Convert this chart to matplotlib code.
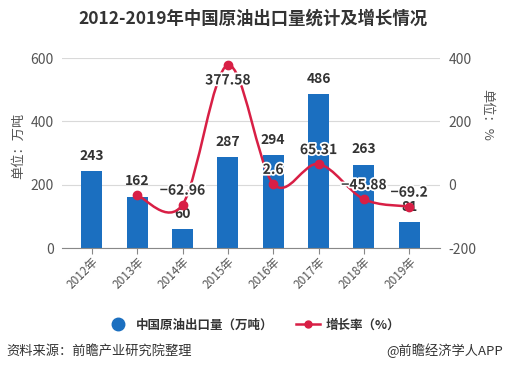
import numpy as np
import matplotlib.pyplot as plt
from matplotlib.path import Path
from matplotlib.patches import PathPatch
from matplotlib.lines import Line2D
import matplotlib.patheffects as pe

plt.rcParams['font.family'] = ['Noto Sans CJK SC', 'DejaVu Sans']

years = ['2012年', '2013年', '2014年', '2015年', '2016年', '2017年', '2018年', '2019年']
export = [243, 162, 60, 287, 294, 486, 263, 81]
growth = [None, -33.33, -62.96, 377.58, 2.6, 65.31, -45.88, -69.2]
growth_labels = [None, None, '−62.96', '377.58', '2.6', '65.31', '−45.88', '−69.2']

BLUE = '#1b6fc0'
RED = '#d81f45'
GRID = '#d9d9d9'
TXT = '#555555'

fig = plt.figure(figsize=(5.06, 3.7), dpi=100)
ax = fig.add_axes([0.1225, 0.3297, 0.7471, 0.5135])
ax2 = ax.twinx()

x = np.arange(len(years))
ax.bar(x, export, width=0.46, color=BLUE, zorder=2)
ax.set_xlim(-0.66, 7.68)
ax.set_ylim(0, 600)
ax.set_yticks([0, 200, 400, 600])
ax.grid(axis='y', color=GRID, lw=0.8, zorder=0)
ax.set_axisbelow(True)
for s in ['top', 'right', 'left']:
    ax.spines[s].set_visible(False)
ax.spines['bottom'].set_color('#888888')
ax.tick_params(axis='y', length=0, labelsize=10, labelcolor=TXT, pad=6)
ax.tick_params(axis='x', length=4, color='#888888', labelsize=8.5, labelcolor=TXT, pad=1)
ax.set_xticks(x)
ax.set_xticklabels(years, rotation=45, ha='right', rotation_mode='anchor')

for xi, v in zip(x, export):
    ax.annotate(str(v), (xi, v), xytext=(0, 6), textcoords='offset points',
                ha='center', va='bottom', fontsize=10, fontweight='bold', color='#333333', zorder=5)

ax2.set_ylim(-200, 400)
ax2.set_yticks([-200, 0, 200, 400])
ax2.set_yticklabels(['-200', '0', '200', '400'])
for s in ax2.spines.values():
    s.set_visible(False)
ax2.tick_params(axis='y', length=0, labelsize=10, labelcolor=TXT, pad=6)

# smooth line (Catmull-Rom -> cubic bezier)
gx = np.array([xi for xi, g in zip(x, growth) if g is not None], dtype=float)
gy = np.array([g for g in growth if g is not None], dtype=float)
pts = np.column_stack([gx, gy])
verts = [pts[0]]
codes = [Path.MOVETO]
n = len(pts)
for i in range(n - 1):
    p0 = pts[max(i - 1, 0)]
    p1 = pts[i]
    p2 = pts[i + 1]
    p3 = pts[min(i + 2, n - 1)]
    c1 = p1 + (p2 - p0) / 6.0
    c2 = p2 - (p3 - p1) / 6.0
    verts += [c1, c2, p2]
    codes += [Path.CURVE4] * 3
ax2.add_patch(PathPatch(Path(verts, codes), fill=False, edgecolor=RED, lw=1.8, zorder=3))
ax2.plot(gx, gy, 'o', color=RED, ms=6, zorder=4)

for xi, g, lab in zip(x, growth, growth_labels):
    if lab is None:
        continue
    below = g > 350
    ax2.annotate(lab, (xi, g), xytext=(0, -6 if below else 5), textcoords='offset points',
                 ha='center', va='top' if below else 'bottom', fontsize=10, fontweight='bold',
                 color='#333333', zorder=6,
                 path_effects=[pe.withStroke(linewidth=2.5, foreground='white')])

fig.text(0.5, 0.951, '2012-2019年中国原油出口量统计及增长情况', ha='center', va='center',
         fontsize=12.5, fontweight='bold', color='#333333')
fig.text(0.036, 0.605, '单位：万吨', rotation=90, ha='center', va='center', fontsize=9.5, color=TXT)
fig.text(0.962, 0.69, '单位：%', rotation=-90, ha='center', va='center', fontsize=9.5, color=TXT)

handles = [Line2D([], [], marker='o', ls='none', color=BLUE, ms=9),
           Line2D([], [], marker='o', color=RED, ms=5, lw=1.8)]
leg = fig.legend(handles, ['中国原油出口量（万吨）', '增长率（%）'], loc='center',
                 bbox_to_anchor=(0.5, 0.122), ncol=2, frameon=False, fontsize=9,
                 handlelength=1.9, columnspacing=1.8, handletextpad=0.5)
for t in leg.get_texts():
    t.set_fontweight('bold')
    t.set_color('#333333')

fig.text(0.012, 0.052, '资料来源：前瞻产业研究院整理', ha='left', va='center', fontsize=9.5, color='#333333')
fig.text(0.994, 0.052, '@前瞻经济学人APP', ha='right', va='center', fontsize=9.5, color='#333333')

fig.savefig('out.png', dpi=100)
